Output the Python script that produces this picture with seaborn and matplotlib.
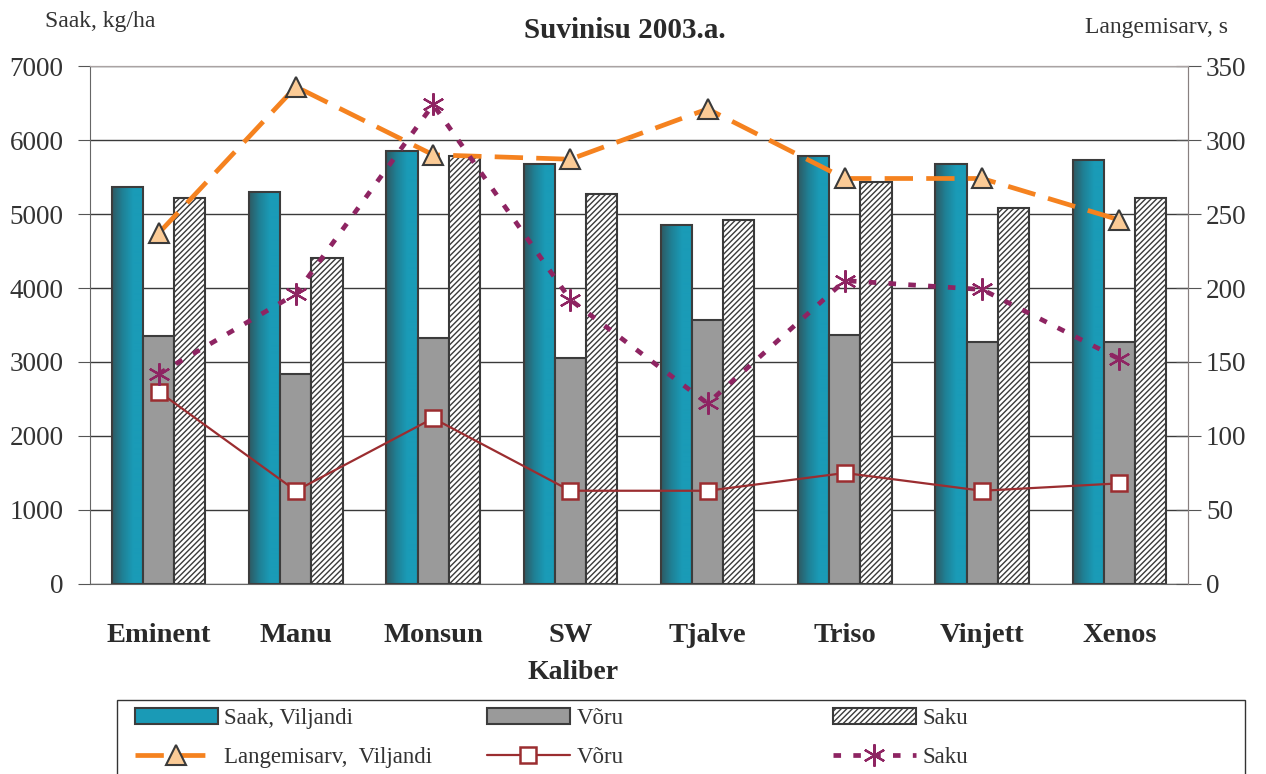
import numpy as np
import pandas as pd
import matplotlib
matplotlib.use('Agg')
import matplotlib.pyplot as plt
import seaborn as sns
from matplotlib.patches import Patch, Rectangle
from matplotlib.colors import LinearSegmentedColormap

# --- data ---
categories = ['Eminent', 'Manu', 'Monsun', 'SW', 'Tjalve', 'Triso', 'Vinjett', 'Xenos']
saak_viljandi = [5360, 5300, 5850, 5680, 4850, 5790, 5680, 5735]
saak_voru = [3350, 2840, 3325, 3060, 3570, 3370, 3270, 3270]
saak_saku = [5220, 4410, 5780, 5275, 4920, 5430, 5080, 5220]
lang_viljandi = [237, 336, 290, 287, 321, 274, 274, 246]
lang_voru = [130, 63, 112, 63, 63, 75, 63, 68]
lang_saku = [142, 196, 324, 192, 122, 205, 199, 152]
bar_series = ['Saak, Viljandi', 'Võru', 'Saku']

df = pd.DataFrame({
    'Kaliber': categories * 3,
    'Saak': saak_viljandi + saak_voru + saak_saku,
    'Seeria': [s for s in bar_series for _ in categories],
})

sns.set_style('white')
plt.rcParams['font.family'] = ['Liberation Serif', 'DejaVu Serif']
plt.rcParams['hatch.linewidth'] = 1.0

fig = plt.figure(figsize=(12.66, 7.74), dpi=100)
ax = fig.add_axes([0.0711, 0.2455, 0.8673, 0.6692])

teal = '#1A9AB6'
grey = '#9A9A9A'
edge = '#3C3C3C'
txt = '#2A2A2A'
sns.barplot(data=df, x='Kaliber', y='Saak', hue='Seeria', hue_order=bar_series,
            palette=[teal, grey, 'white'], width=0.68, saturation=1,
            edgecolor=edge, linewidth=1.5, legend=False, ax=ax)

# hatch for Saku bars, gradient for Viljandi bars
for p in ax.containers[2]:
    p.set_hatch('//////')
    p.set_edgecolor('#3A3A3A')

grad = LinearSegmentedColormap.from_list('tealgrad', ['#2E5A63', '#1F8196', '#1A9BB7', '#1A9BB7'])
gimg = np.linspace(0, 1, 64).reshape(1, -1)
for p in ax.containers[0]:
    x0, y0 = p.get_x(), p.get_y()
    w, h = p.get_width(), p.get_height()
    im = ax.imshow(gimg, cmap=grad, aspect='auto', extent=(x0, x0 + w, y0, y0 + h),
                   zorder=p.get_zorder() - 0.01, interpolation='bilinear')
    im.set_clip_path(p)
    p.set_facecolor('none')

ax.set_xlim(-0.5, 7.5)
ax.set_ylim(0, 7000)
ax.set_yticks(range(0, 7001, 1000))
ax.yaxis.grid(True, color='#3A3A3A', linewidth=1.0)
ax.set_axisbelow(True)
ax.set_ylabel('')
ax.set_xlabel('Kaliber', fontsize=20, fontweight='bold', color=txt)
ax.xaxis.set_label_coords((573 - 90) / 1098, -0.147)
ax.set_xticks(range(len(categories)))
ax.set_xticklabels(categories, fontsize=20.5, fontweight='bold', color=txt)
ax.set_xticks(np.arange(-0.5, 8, 1), minor=True)
ax.tick_params(axis='x', which='major', length=0, pad=28)
ax.tick_params(axis='x', which='minor', length=12, direction='out', color='#555555')
ax.tick_params(axis='y', labelsize=19.5, labelcolor='#333333', length=9, direction='out',
               color='#555555', pad=10, left=True)
for s in ['left', 'bottom']:
    ax.spines[s].set_color('#666666')
for s in ['top', 'right']:
    ax.spines[s].set_color('#AAA3A3')

# --- second axis: Langemisarv lines ---
ax2 = ax.twinx()
xpos = np.arange(len(categories))
l1, = ax2.plot(xpos, lang_viljandi, color='#F5821F', linewidth=3.4, dashes=(6, 2.8),
               marker='^', markersize=14, markerfacecolor='#FBCB96',
               markeredgecolor='#3A3A3A', markeredgewidth=1.5, zorder=5)
l2, = ax2.plot(xpos, lang_voru, color='#9B2D30', linewidth=1.6,
               marker='s', markersize=11, markerfacecolor='white',
               markeredgecolor='#9B2D30', markeredgewidth=1.8, zorder=5)
l3, = ax2.plot(xpos, lang_saku, color='#8E2462', linewidth=3.4, dashes=(1.6, 2.6),
               marker=(6, 2, 0), markersize=16, markeredgecolor='#8E2462',
               markeredgewidth=1.6, zorder=5)
ax2.set_ylim(0, 350)
ax2.set_yticks(range(0, 351, 50))
ax2.tick_params(axis='y', labelsize=19.5, labelcolor='#333333', length=18, direction='inout',
                color='#555555', pad=4)
ax2.spines['right'].set_color('#888080')
ax2.spines['top'].set_color('#AAA3A3')
ax2.spines['left'].set_visible(False)
ax2.spines['bottom'].set_visible(False)
ax2.set_ylabel('')

# --- titles ---
fig.text(625 / 1266, 1 - 30 / 774, 'Suvinisu 2003.a.', ha='center', va='center', fontsize=21,
         fontweight='bold', color=txt)
fig.text(45 / 1266, 1 - 22 / 774, 'Saak, kg/ha', ha='left', va='center', fontsize=17, color='#333333')
fig.text(1228 / 1266, 1 - 27 / 774, 'Langemisarv, s', ha='right', va='center', fontsize=17,
         color='#333333')

# --- legend: frame + three columns ---
fig.patches.append(Rectangle((117 / 1266, -0.01), 1128 / 1266, 74 / 774 + 0.01,
                             transform=fig.transFigure, facecolor='white',
                             edgecolor='#333333', linewidth=1.0, zorder=0))
columns = [
    ([Patch(facecolor=teal, edgecolor=edge, linewidth=1.5), l1],
     ['Saak, Viljandi', 'Langemisarv,  Viljandi'], 135),
    ([Patch(facecolor=grey, edgecolor=edge, linewidth=1.5), l2], ['Võru', 'Võru'], 487),
    ([Patch(facecolor='white', edgecolor='#3A3A3A', hatch='//////', linewidth=1.5), l3],
     ['Saku', 'Saku'], 833),
]
for hs, ls, xleft in columns:
    lg = fig.legend(hs, ls, loc='center left', bbox_to_anchor=(xleft / 1266, 1 - 738 / 774),
                    fontsize=16.5, handlelength=3.6, handleheight=0.75, frameon=False,
                    borderpad=0, borderaxespad=0, labelspacing=0.78, handletextpad=0.3,
                    labelcolor='#333333')

fig.savefig('out.png', dpi=100)
